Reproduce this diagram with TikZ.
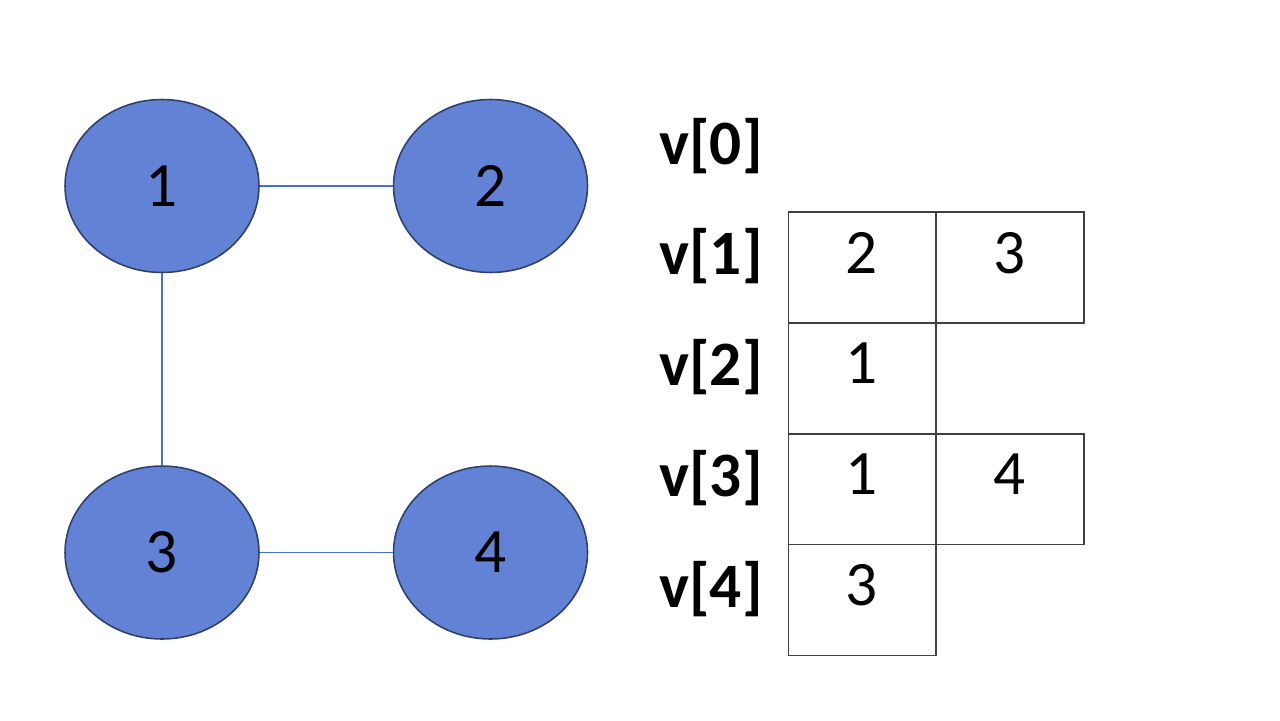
\documentclass[tikz,border=0pt]{standalone}
\usepackage{fontspec}
\setmainfont{Carlito}
\usepackage{xcolor}
\usepackage{tikz}
\usetikzlibrary{positioning, shapes.geometric}

\definecolor{vertexfill}{RGB}{98,130,214}
\definecolor{vertexline}{RGB}{47,64,110}
\definecolor{edgeblue}{RGB}{68,114,196}

\begin{document}
\begin{tikzpicture}[x=0.02cm, y=-0.02cm,
        vertex/.style={ellipse, draw=vertexline, line width=0.9pt, fill=vertexfill, minimum width=3.88cm, minimum height=3.46cm, inner sep=0pt, font=\fontsize{36}{43}\selectfont},
        edge/.style={draw=edgeblue, line width=0.6pt},
        rowlabel/.style={font=\fontsize{36}{43}\selectfont\bfseries, anchor=base},
        cell/.style={rectangle, draw=black!75, line width=0.6pt, outer sep=0pt, minimum width=2.96cm, minimum height=2.22cm, inner sep=0pt, text height=0.9cm, text depth=0.68cm, font=\fontsize{36}{43}\selectfont},
    ]
        \useasboundingbox (0,0) rectangle (1280,720);

        % Graph
        \node[vertex] (n1) at (162,186) {1};
        \node[vertex, right=2.66cm of n1] (n2) {2};
        \node[vertex, below=3.84cm of n1] (n3) {3};
        \node[vertex, right=2.66cm of n3] (n4) {4};

        \draw[edge] (n1) -- (n2);
        \draw[edge] (n1) -- (n3);
        \draw[edge] (n3) -- (n4);

        % Row labels
        \foreach \i/\y in {0/164, 1/274, 2/385, 3/496, 4/607}
            \node[rowlabel] (v\i) at (711,\y) {v[\i]};

        % Adjacency lists
        \node[cell] (c11) at (862,267.5) {2};
        \node[cell, right=0pt of c11] (c12) {3};
        \node[cell, below=0pt of c11] (c21) {1};
        \node[cell, below=0pt of c21] (c31) {1};
        \node[cell, right=0pt of c31] (c32) {4};
        \node[cell, below=0pt of c31] (c41) {3};
    \end{tikzpicture}
\end{document}
